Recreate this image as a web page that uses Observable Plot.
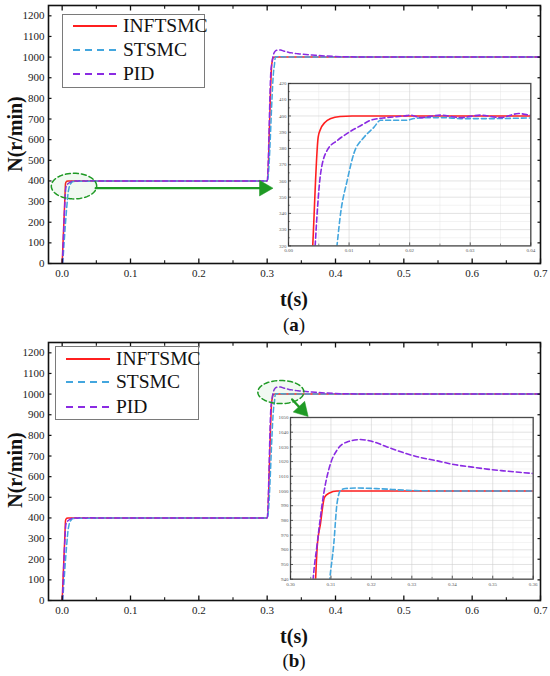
<!DOCTYPE html>
<html>
<head>
<meta charset="utf-8">
<script src="https://cdn.jsdelivr.net/npm/d3@7"></script>
<script src="https://cdn.jsdelivr.net/npm/@observablehq/plot@0.6"></script>
<style>
  body { margin: 0; background: #fff; }
  #root { position: relative; width: 550px; height: 676px; color: #111; overflow: hidden; }
  .abs { position: absolute; }
  .lbl { font-weight: bold; font-size: 20px; white-space: nowrap; }
  .cap { font-size: 19px; white-space: nowrap; }
  .legend { position: absolute; border: 1.5px solid #7a7a7a; background: #fff; box-sizing: border-box; }
  .legend .row { position: absolute; left: 0; height: 22px; display: flex; align-items: center; font-size: 19.5px; white-space: nowrap; }
  .legend svg { display: block; }
</style>
</head>
<body>
<div id="root"></div>
<script>
// ---------- data ----------
const seriesNames = ["INFTSMC", "STSMC", "PID"];
const seriesColors = ["#ff1f1f", "#43a6de", "#8a2be2"];
const seriesDash = [null, "5,3", "5,3"];

// INFTSMC
const infT = [0, 0.0040, 0.0049, 0.0053, 0.0060, 0.0070, 0.0085, 0.0105, 0.1000, 0.3000,
              0.3062, 0.3066, 0.3074, 0.3084, 0.3095, 0.3115, 0.5000, 0.7000];
const infN = [0, 320, 387, 392, 396, 398.5, 399.7, 400, 400, 400,
              940, 962, 977.6, 995.7, 998.5, 1000, 1000, 1000];

// STSMC
const stT = [0.0008, 0.0080, 0.0086, 0.0097, 0.0108, 0.0125, 0.0141, 0.0152, 0.0174, 0.0196,
             0.0207, 0.0229, 0.0257, 0.0284, 0.0340, 0.0400, 0.0600, 0.1000, 0.3003,
             0.3097, 0.3107, 0.3115, 0.3124, 0.3136, 0.3165, 0.3222, 0.3280, 0.3320, 0.3400, 0.7000];
const stN = [0, 320, 340, 360.5, 377, 387, 393, 397.4, 397.4, 397.4,
             398.4, 399, 399, 398.4, 398.4, 398.8, 399.5, 400, 400,
             940, 964, 991.5, 1000.5, 1001.7, 1002, 1001.5, 1000.6, 1000.2, 1000, 1000];

// PID
const pidT = [0.0004, 0.0044, 0.0048, 0.0053, 0.0064, 0.0081, 0.0100, 0.0119, 0.0136, 0.0163,
              0.0191, 0.0202, 0.0218, 0.0251, 0.0284, 0.0317, 0.0350, 0.0380, 0.0400, 0.0600,
              0.3000, 0.3056, 0.3066, 0.3082, 0.3099, 0.3115, 0.3140, 0.3173, 0.3198, 0.3239,
              0.3280, 0.3321, 0.3363, 0.3404, 0.3445, 0.3486, 0.3527, 0.3600, 0.3700, 0.3800,
              0.4000, 0.4300, 0.5000, 0.7000];
const pidN = [0, 320, 344, 364.6, 379, 385, 390, 394, 397.4, 399,
              400, 400.5, 399, 400.5, 399, 400.5, 399, 401.5, 400.5, 400,
              400, 940, 964, 998, 1018.7, 1027.8, 1033.4, 1035, 1034, 1030,
              1026, 1022.8, 1020.5, 1018, 1016.4, 1014.9, 1013.7, 1011.9, 1009, 1006.5,
              1003, 1001, 1000, 1000];

// axis ticks
const xMajor = [0, 0.1, 0.2, 0.3, 0.4, 0.5, 0.6, 0.7];
const xMinor = [0.05, 0.15, 0.25, 0.35, 0.45, 0.55, 0.65];
const yMajor = [0, 100, 200, 300, 400, 500, 600, 700, 800, 900, 1000, 1100, 1200];

// inset (a)
const insetAX = [0, 0.01, 0.02, 0.03, 0.04];
const insetAXMinor = [0.005, 0.015, 0.025, 0.035];
const insetAY = [320, 330, 340, 350, 360, 370, 380, 390, 400, 410, 420];
const insetAYMinor = [325, 335, 345, 355, 365, 375, 385, 395, 405, 415];
// inset (b)
const insetBX = [0.30, 0.31, 0.32, 0.33, 0.34, 0.35, 0.36];
const insetBXMinor = [0.305, 0.315, 0.325, 0.335, 0.345, 0.355];
const insetBY = [940, 950, 960, 970, 980, 990, 1000, 1010, 1020, 1030, 1040, 1050];
const insetBYMinor = [945, 955, 965, 975, 985, 995, 1005, 1015, 1025, 1035, 1045];

// annotations (data units)
const ellipseA = {cx: 0.0173, cy: 375, rx: 0.0332, ry: 62};
const arrowA = {x1: 0.0492, y1: 365, x2: 0.2954, y2: 365, rotate: 90};
const ellipseB = {cx: 0.320, cy: 1010, rx: 0.0337, ry: 56};
const arrowB = {x1: 0.3366, y1: 974, x2: 0.3510, y2: 923, rotate: 137};

// ---------- build ----------
const FONT = '"Liberation Serif", "Times New Roman", Tinos, serif';
const series = seriesNames.map((name, i) => {
  const T = [infT, stT, pidT][i], N = [infN, stN, pidN][i];
  return {name, color: seriesColors[i], dash: seriesDash[i], rows: T.map((t, j) => ({t, n: N[j]}))};
});

const root = document.getElementById("root");
root.style.fontFamily = FONT;
const green = "#1f9a25";

function ellipsePts(e) {
  return d3.range(0, 361, 5).map(a => ({x: e.cx + e.rx * Math.cos(a * Math.PI / 180), y: e.cy + e.ry * Math.sin(a * Math.PI / 180)}));
}

function seriesMarks(width, clip) {
  return series.map(s => Plot.line(s.rows, {
    x: "t", y: "n", stroke: s.color, strokeWidth: width,
    strokeDasharray: s.dash, curve: "monotone-x", clip
  }));
}

function serifize(svg) {
  svg.style.fontFamily = FONT;
  svg.querySelectorAll("text, g").forEach(t => { t.style.fontFamily = FONT; });
  return svg;
}

function mainPlot(ellipse, arrow) {
  return serifize(Plot.plot({
    width: 550, height: 315,
    marginLeft: 48, marginRight: 10, marginTop: 5, marginBottom: 52,
    x: {domain: [-0.02, 0.7]},
    y: {domain: [0, 1250]},
    style: {fontFamily: FONT, fontSize: "11px", color: "#222", background: "transparent", overflow: "visible"},
    marks: [
      ...seriesMarks(1.5, true),
      Plot.line(ellipsePts(ellipse), {x: "x", y: "y", stroke: green, strokeWidth: 1.5, strokeDasharray: "5,3", fill: "rgba(60,170,60,0.07)"}),
      Plot.arrow([arrow], {x1: "x1", y1: "y1", x2: "x2", y2: "y2", stroke: green, strokeWidth: 2.4, headLength: 0}),
      Plot.dot([arrow], {x: "x2", y: "y2", symbol: "triangle", r: 5.8, fill: green, stroke: green, strokeWidth: 0.5, rotate: arrow.rotate}),
      Plot.frame({stroke: "#111", strokeWidth: 1.6}),
      Plot.axisX(xMajor, {anchor: "bottom", tickSize: -4.5, fill: "none", stroke: "#111", strokeWidth: 1.3, label: null}),
      Plot.axisX(xMinor, {anchor: "bottom", tickSize: -2.8, fill: "none", stroke: "#111", strokeWidth: 1.1, label: null}),
      Plot.axisX(xMajor, {anchor: "top", tickSize: -4.5, fill: "none", stroke: "#111", strokeWidth: 1.3, label: null}),
      Plot.axisX(xMinor, {anchor: "top", tickSize: -2.8, fill: "none", stroke: "#111", strokeWidth: 1.1, label: null}),
      Plot.axisX(xMajor, {anchor: "bottom", tickSize: 0, tickPadding: 6, tickFormat: d3.format(".1f"), label: null}),
      Plot.axisY(yMajor, {anchor: "left", tickSize: -3.5, fill: "none", stroke: "#111", strokeWidth: 1.2, label: null}),
      Plot.axisY(yMajor, {anchor: "right", tickSize: -3.5, fill: "none", stroke: "#111", strokeWidth: 1.2, label: null}),
      Plot.axisY(yMajor, {anchor: "left", tickSize: 0, tickPadding: 4, tickFormat: d => String(d), label: null})
    ]
  }));
}

function insetPlot(cfg) {
  const w = cfg.fw + 18, h = cfg.fh + 13;
  return serifize(Plot.plot({
    width: w, height: h,
    marginLeft: 14, marginRight: 4, marginTop: 3, marginBottom: 10,
    x: {domain: cfg.xd},
    y: {domain: cfg.yd},
    style: {fontFamily: FONT, fontSize: "5px", color: "#555", background: "transparent", overflow: "visible"},
    marks: [
      Plot.frame({fill: "#fff"}),
      Plot.gridX(cfg.xMinor, {stroke: "#e6e6e6", strokeOpacity: 1, strokeWidth: 0.5}),
      Plot.gridY(cfg.yMinor, {stroke: "#e6e6e6", strokeOpacity: 1, strokeWidth: 0.5}),
      Plot.gridX(cfg.xt, {stroke: "#d0d0d0", strokeOpacity: 1, strokeWidth: 0.6}),
      Plot.gridY(cfg.yt, {stroke: "#d0d0d0", strokeOpacity: 1, strokeWidth: 0.6}),
      ...seriesMarks(1.6, true),
      Plot.frame({stroke: "#4a4a4a", strokeWidth: 1.3}),
      Plot.axisX(cfg.xt, {anchor: "bottom", tickSize: -3, fill: "none", stroke: "#333", strokeWidth: 0.8, label: null}),
      Plot.axisX(cfg.xMinor, {anchor: "bottom", tickSize: -1.8, fill: "none", stroke: "#333", strokeWidth: 0.6, label: null}),
      Plot.axisY(cfg.yt, {anchor: "left", tickSize: -3, fill: "none", stroke: "#333", strokeWidth: 0.8, label: null}),
      Plot.axisY(cfg.yMinor, {anchor: "left", tickSize: -1.8, fill: "none", stroke: "#333", strokeWidth: 0.6, label: null}),
      Plot.axisX(cfg.xt, {anchor: "bottom", tickSize: 0, tickPadding: 3, tickFormat: d3.format(".2f"), label: null}),
      Plot.axisY(cfg.yt, {anchor: "left", tickSize: 0, tickPadding: 2, tickFormat: d => String(d), label: null})
    ]
  }));
}

function place(el, left, top) {
  el.style.position = "absolute";
  el.style.left = left + "px";
  el.style.top = top + "px";
  root.appendChild(el);
  return el;
}

function addText(html, cls, cx, cy, rotate) {
  const d = document.createElement("div");
  d.className = "abs " + cls;
  d.innerHTML = html;
  d.style.fontFamily = FONT;
  d.style.left = cx + "px";
  d.style.top = cy + "px";
  d.style.transform = "translate(-50%,-50%)" + (rotate ? " rotate(" + rotate + "deg)" : "");
  root.appendChild(d);
}

function addLegend(left, top, width, height, lineX, lineW, textX, rowYs) {
  const box = document.createElement("div");
  box.className = "legend";
  Object.assign(box.style, {left: left + "px", top: top + "px", width: width + "px", height: height + "px"});
  series.forEach((s, i) => {
    const row = document.createElement("div");
    row.className = "row";
    row.style.fontFamily = FONT;
    row.style.top = (rowYs[i] - 11) + "px";
    const svg = d3.create("svg").attr("width", textX).attr("height", 22);
    svg.append("line").attr("x1", lineX).attr("x2", lineX + lineW).attr("y1", 11).attr("y2", 11)
      .attr("stroke", s.color).attr("stroke-width", 2).attr("stroke-dasharray", s.dash ? "7,5" : null);
    row.appendChild(svg.node());
    const span = document.createElement("span");
    span.textContent = s.name;
    span.style.fontFamily = FONT;
    row.appendChild(span);
    box.appendChild(row);
  });
  root.appendChild(box);
}

// ----- panel (a) -----
place(mainPlot(ellipseA, arrowA), 0, 0);
place(insetPlot({xd: [0, 0.04], yd: [320, 420], xt: insetAX, xMinor: insetAXMinor, yt: insetAY, yMinor: insetAYMinor, fw: 242.3, fh: 162.4}), 273.7, 80.3);
addLegend(62, 14, 143, 74, 10, 44, 60, [10.5, 34.5, 59]);
addText("N(r/min)", "lbl", 15, 134, -90);
addText("t(s)", "lbl", 294, 299, 0);
addText("(<b>a</b>)", "cap", 294, 325, 0);

// ----- panel (b) -----
place(mainPlot(ellipseB, arrowB), 0, 336.5);
place(insetPlot({xd: [0.30, 0.36], yd: [940, 1050], xt: insetBX, xMinor: insetBXMinor, yt: insetBY, yMinor: insetBYMinor, fw: 242.7, fh: 161.7}), 276, 414.3);
addLegend(55, 346, 144, 74, 10, 44, 60, [11.5, 35, 60]);
addText("N(r/min)", "lbl", 15, 470, -90);
addText("t(s)", "lbl", 294, 636, 0);
addText("(<b>b</b>)", "cap", 294, 661, 0);
</script>
</body>
</html>
